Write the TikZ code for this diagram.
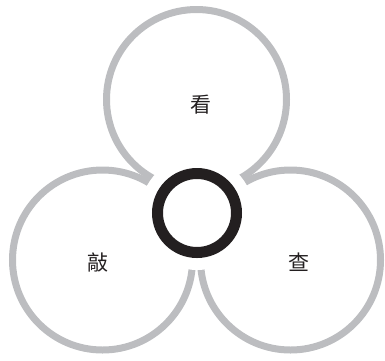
\documentclass[tikz,border=0pt]{standalone}
\usepackage{fontspec}
\newfontfamily\cjk{Noto Sans CJK SC}
\definecolor{lobegray}{HTML}{BCBDC0}
\definecolor{ringblack}{HTML}{231F20}
\tikzset{
  lobe/.style={draw=lobegray, line width=7pt},
  ring/.style={draw=ringblack, line width=11pt},
  lbl/.style={font=\cjk\fontsize{21}{21}\selectfont, text=ringblack, inner sep=0pt}
}
\begin{document}
\begin{tikzpicture}[x=1pt,y=-1pt]
\useasboundingbox (0,0) rectangle (385,360);
\coordinate (C) at (197,213);
\coordinate (T) at (196.5,99.5);
\coordinate (L) at (102.5,260);
\coordinate (R) at (290.5,260);
\draw[lobe] (T) circle[radius=90];
\draw[lobe] (L) circle[radius=90];
\draw[lobe] (R) circle[radius=90];
\fill[white] (C) circle[radius=57];
\draw[ring] (C) circle[radius=39.5];
\node[lbl] (t) at (201,105) {看};
\node[lbl] (l) at (98,263) {敲};
\node[lbl] (r) at (299,262) {查};
\end{tikzpicture}
\end{document}
